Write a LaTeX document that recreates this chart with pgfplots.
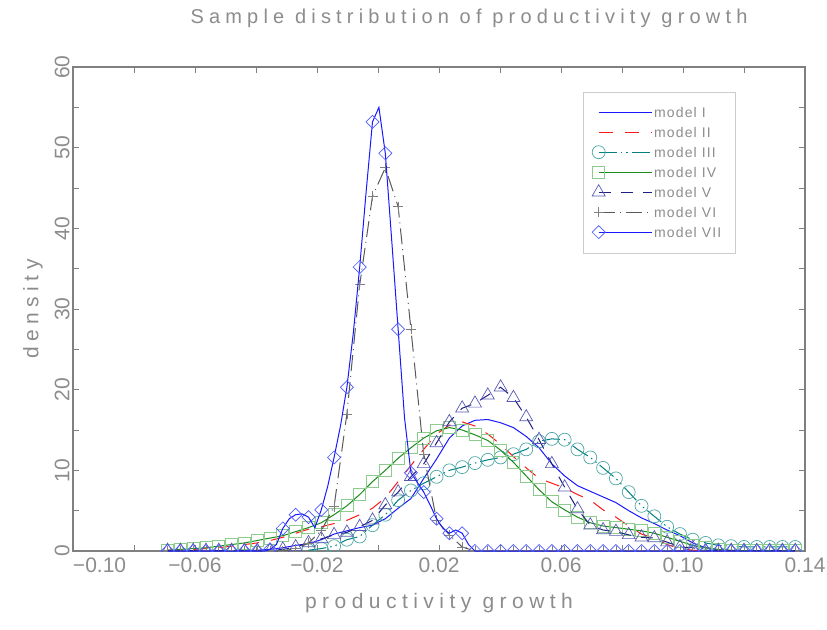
\documentclass[border=0pt]{standalone}
\usepackage{fontspec}
\setmainfont{Liberation Sans}
\newfontfamily\spacedfont[LetterSpace=26]{Liberation Sans}
\newfontfamily\legfont[LetterSpace=8]{Liberation Sans}
\usepackage{pgfplots}
\usepackage{pgfplotstable}
\pgfplotsset{compat=1.18}
\definecolor{txt}{gray}{0.55}
\definecolor{frame}{gray}{0.5}
\definecolor{mI}{rgb}{0.1,0.1,1}
\definecolor{mII}{rgb}{1,0.1,0.1}
\definecolor{mIII}{rgb}{0,0.5,0.5}
\definecolor{mIIIm}{rgb}{0.3,0.65,0.65}
\definecolor{mIV}{rgb}{0.1,0.55,0.1}
\definecolor{mIVm}{rgb}{0.55,0.8,0.55}
\definecolor{mV}{rgb}{0.12,0.12,0.5}
\definecolor{mVm}{rgb}{0.35,0.35,0.7}
\definecolor{mVI}{gray}{0.35}
\definecolor{mVIm}{gray}{0.5}
\definecolor{mVII}{rgb}{0.1,0.1,1}
\definecolor{mVIIm}{rgb}{0.3,0.35,1}

\pgfplotstableread{
x I II III IV V VI
-0.0690 0 0.1 nan 0.1 0.05 0
-0.0648 0 0.1 nan 0.2 0.05 0
-0.0606 0 0.2 nan 0.3 0.05 0
-0.0564 0 0.3 nan 0.4 0.05 0
-0.0522 0 0.4 nan 0.6 0.05 0
-0.0480 0 0.6 nan 0.8 0.05 0
-0.0438 0 0.8 nan 1.0 0.05 0
-0.0396 0.1 1.0 nan 1.3 0.05 0
-0.0354 0.2 1.3 nan 1.6 0.05 0
-0.0312 0.4 1.7 nan 1.9 0.2 0
-0.0270 0.7 2.2 nan 2.4 0.5 0.3
-0.0228 0.9 2.7 0.1 2.9 1.0 1.0
-0.0186 1.4 3.0 0.3 3.5 1.5 2.5
-0.0144 2.1 3.4 0.6 4.5 2.0 5.5
-0.0102 2.5 3.8 1.4 5.6 2.3 17
-0.0060 2.9 4.5 1.8 7.0 3.0 33
-0.0018 3.2 5.3 3.2 8.6 3.8 44
0.0024 4.0 6.6 4.5 10.0 5.7 47.5
0.0066 5.3 8.6 6.3 11.5 7.3 42.7
0.0108 6.5 10.6 7.5 12.8 9.2 27.5
0.0150 9.0 12.6 8.4 14.0 10.8 12
0.0192 11.4 14.5 9.2 14.9 13.4 3.8
0.0234 14.0 15.6 10.0 15.3 16.0 2.0
0.0276 15.5 16.0 10.4 15.0 17.7 0.5
0.0318 16.2 15.5 10.9 14.4 18.3 0
0.0360 16.3 14.5 11.3 13.7 19.3 0
0.0402 15.9 13.2 11.6 12.5 20.3 0
0.0444 15.3 11.7 12.0 11.0 19.0 0
0.0486 14.2 10.3 12.6 9.3 16.6 0
0.0528 12.8 9.0 13.6 7.6 13.8 0
0.0570 10.8 8.4 13.9 6.1 10.8 0
0.0612 9.3 7.8 13.8 5.1 7.9 0
0.0654 8.1 7.0 12.6 4.2 5.2 0
0.0696 7.4 6.3 11.6 3.5 3.2 0
0.0738 6.7 5.1 10.3 3.1 2.6 0
0.0780 6.0 4.2 9.0 2.9 2.4 0
0.0822 5.0 3.1 7.3 2.7 2.0 0
0.0864 4.1 2.1 5.6 2.5 1.7 0
0.0906 3.4 1.6 4.3 2.2 1.6 0
0.0948 2.6 0.8 3.0 1.7 1.1 0
0.0990 1.9 0.3 2.1 1.2 0.5 0
0.1032 1.0 0.1 1.4 0.7 0.4 0
0.1074 0.4 0 1.0 0.4 0.05 0
0.1116 0.1 0 0.7 0.2 0.05 0
0.1158 0 0 0.6 0.1 0.05 0
0.1200 0 0 0.5 0.05 0.05 0
0.1242 0 0 0.5 0.05 0.05 0
0.1284 0 0 0.5 0.05 0.05 0
0.1326 0 0 0.5 0.05 0.05 0
0.1368 0 0 0.5 0.05 0.05 0
}\models

\pgfplotstableread{
x VII
-0.0690 0
-0.0669 0
-0.0648 0
-0.0627 0
-0.0606 0
-0.0585 0
-0.0564 0
-0.0543 0
-0.0522 0
-0.0501 0
-0.0480 0
-0.0459 0
-0.0438 0
-0.0417 0
-0.0396 0
-0.0375 0
-0.0354 0.2
-0.0333 0.8
-0.0312 2.8
-0.0291 4.0
-0.0270 4.5
-0.0249 4.6
-0.0228 4.2
-0.0207 2.9
-0.0186 5.1
-0.0165 8.0
-0.0144 11.6
-0.0123 15.5
-0.0102 20.3
-0.0081 27.0
-0.0060 35.2
-0.0039 44.5
-0.0018 53.2
0.0003 55.0
0.0024 49.3
0.0045 38.5
0.0066 27.5
0.0087 16.5
0.0108 9.7
0.0129 8.5
0.0150 7.3
0.0171 5.7
0.0192 4.0
0.0213 2.8
0.0234 2.2
0.0255 2.6
0.0276 2.2
0.0297 0.8
0.0318 0
0.0339 0
0.0360 0
0.0381 0
0.0402 0
0.0423 0
0.0444 0
0.0465 0
0.0486 0
0.0507 0
0.0528 0
0.0549 0
0.0570 0
0.0591 0
0.0612 0
0.0633 0
0.0654 0
0.0675 0
0.0696 0
0.0717 0
0.0738 0
0.0759 0
0.0780 0
0.0801 0
0.0822 0
0.0843 0
0.0864 0
0.0885 0
0.0906 0
0.0927 0
0.0948 0
0.0969 0
0.0990 0
0.1011 0
0.1032 0
0.1053 0
0.1074 0
0.1095 0
0.1116 0
0.1137 0
0.1158 0
0.1179 0
0.1200 0
0.1221 0
0.1242 0
0.1263 0
0.1284 0
0.1305 0
0.1326 0
0.1347 0
0.1368 0
}\modelseven

\newcommand{\lt}[1]{\textcolor{txt}{#1}}

\begin{document}
\begin{tikzpicture}
\useasboundingbox (-73pt,-78pt) rectangle (754pt,551pt);
\begin{axis}[
  scale only axis, width=732pt, height=484pt,
  at={(0pt,0pt)}, anchor=south west,
  xmin=-0.10, xmax=0.14, ymin=0, ymax=60,
  axis line style={draw=frame, line width=1.1pt},
  tick style={draw=frame, line width=0.8pt},
  tick align=inside,
  major tick length=6pt, minor tick length=6pt,
  xtick={-0.10,-0.06,-0.02,0.02,0.06,0.10,0.14},
  minor xtick={-0.08,-0.04,0,0.04,0.08,0.12},
  xticklabels={\makebox[0pt][l]{−0.10},−0.06,−0.02,0.02,0.06,0.10,0.14},
  ytick={0,10,20,30,40,50,60},
  minor ytick={5,15,25,35,45,55},
  /pgf/number format/assume math mode=true,
  ticklabel style={font=\fontsize{21}{24}\selectfont, text=txt},
  xticklabel style={yshift=-3pt},
  yticklabel style={rotate=90, anchor=south},
  title={Sample distribution of productivity growth},
  title style={at={([yshift=43pt]axis description cs:0.541,1)}, anchor=center,
     font=\fontsize{20}{24}\selectfont\spacedfont, text=txt},
  xlabel={productivity growth},
  xlabel style={at={([yshift=-52pt]axis description cs:0.5,0)}, anchor=center,
     font=\fontsize{21}{24}\selectfont\spacedfont, text=txt},
  ylabel={density},
  ylabel style={at={([xshift=-40pt]axis description cs:0,0.5)}, anchor=center,
     font=\fontsize{21}{24}\selectfont\spacedfont, text=txt},
  clip marker paths=true,
  legend cell align=left,
  legend image code/.code={\draw[#1, mark repeat=3, mark phase=1] plot coordinates {(0pt,0pt) (26pt,0pt) (53pt,0pt)};},
  legend style={at={(0.709,0.9277)}, anchor=north west, draw=none, fill=none,
     inner xsep=0pt, inner ysep=0pt,
     font=\fontsize{14}{16}\selectfont\legfont,
     nodes={text height=10pt, text depth=0pt, inner ysep=5pt, inner xsep=2pt},
     /tikz/every even column/.append style={column sep=9pt}},
]
\draw[gray!40, line width=0.7pt] (rel axis cs:0.6967,0.9483) rectangle (rel axis cs:0.9044,0.6157);
\addplot[mI, line width=1pt, no marks] table[x=x, y=I] {\models};
\addlegendentry{\lt{model I}}
\addplot[mII, line width=1pt, no marks, dash pattern=on 14pt off 12pt] table[x=x, y=II] {\models};
\addlegendentry{\lt{model II}}
\addplot[mIII, line width=1pt, dash pattern=on 18pt off 4pt on 1.5pt off 4pt on 1.5pt off 4pt,
   mark=o, mark size=6.5pt, mark options={draw=mIIIm, solid, line width=0.7pt}] table[x=x, y=III] {\models};
\addlegendentry{\lt{model III}}
\addplot[mIV, line width=1pt, mark=square, mark size=6pt,
   mark options={draw=mIVm, solid, line width=0.7pt}] table[x=x, y=IV] {\models};
\addlegendentry{\lt{model IV}}
\addplot[mV, line width=1pt, dash pattern=on 12pt off 10pt, mark=triangle, mark size=7.5pt,
   mark options={draw=mVm, solid, line width=0.7pt}] table[x=x, y=V] {\models};
\addlegendentry{\lt{model V}}
\addplot[mVI, line width=1pt, dash pattern=on 16pt off 5pt on 1pt off 5pt, mark=+, mark size=5pt,
   mark options={draw=mVIm, solid, line width=0.7pt}] table[x=x, y=VI] {\models};
\addlegendentry{\lt{model VI}}
\addplot[mVII, line width=1pt, mark=square, mark size=4.6pt, mark repeat=2,
   mark options={draw=mVIIm, solid, rotate=45, line width=0.7pt}] table[x=x, y=VII] {\modelseven};
\addlegendentry{\lt{model VII}}
\end{axis}
\end{tikzpicture}
\end{document}
